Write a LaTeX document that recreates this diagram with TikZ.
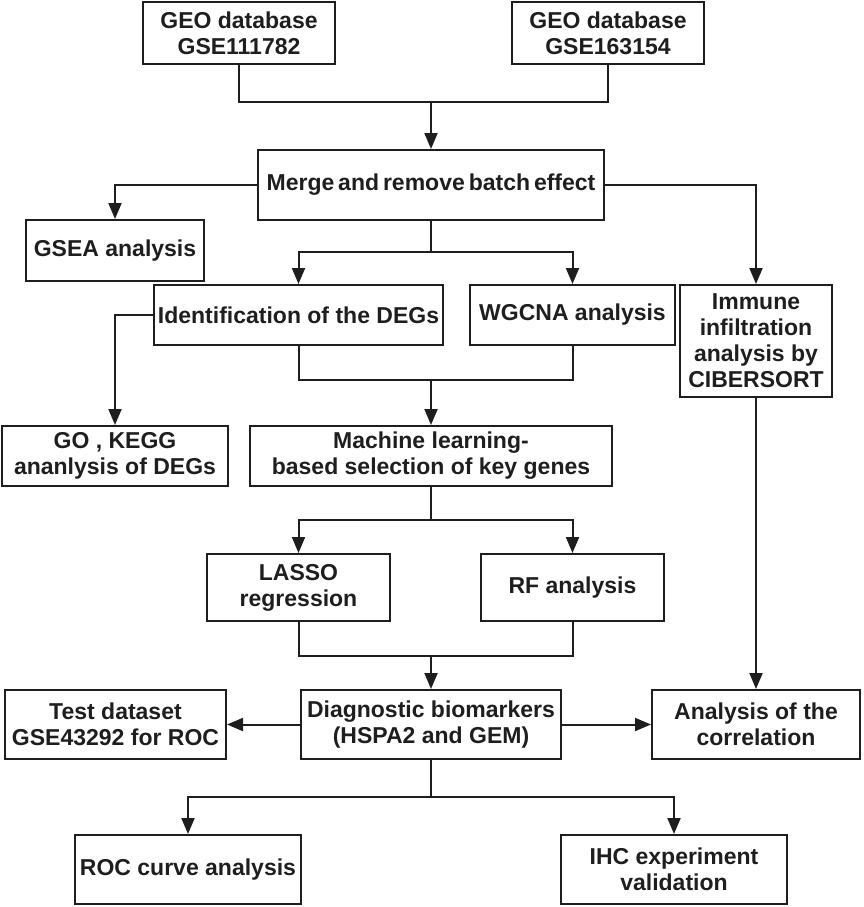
\documentclass[tikz,border=0pt]{standalone}
\usepackage{fontspec}
\setmainfont{Liberation Sans}
\usetikzlibrary{arrows.meta}
\definecolor{ink}{HTML}{1E1E1E}
\begin{document}
\begin{tikzpicture}[x=1pt,y=-1pt,
  box/.style={draw=ink, line width=2pt, inner sep=0pt, align=center, text=ink,
    font=\fontsize{23}{26}\selectfont\bfseries},
  conn/.style={draw=ink, line width=2pt},
  arr/.style={conn, -{Triangle[width=13pt,length=16pt]}}]
\useasboundingbox (0,0) rectangle (863,907);
\node[box, minimum width=192pt, minimum height=62pt] (geo1) at (239,33) {GEO database\\GSE111782};
\node[box, minimum width=192pt, minimum height=62pt] (geo2) at (608,33) {GEO database\\GSE163154};
\node[box, minimum width=346pt, minimum height=70pt] (merge) at (431,185) {\spaceskip=0.17em Merge and remove batch effect};
\node[box, minimum width=178pt, minimum height=61pt] (gsea) at (115,250.5) {GSEA analysis};
\node[box, minimum width=289pt, minimum height=60pt] (deg) at (298.5,315) {Identification of the DEGs};
\node[box, minimum width=205pt, minimum height=60pt] (wgcna) at (572.5,315) {WGCNA analysis};
\node[box, minimum width=152pt, minimum height=112pt] (imm) at (756,341) {Immune\\infiltration\\analysis by\\CIBERSORT};
\node[box, minimum width=226pt, minimum height=60pt] (go) at (115,456) {GO , KEGG\\ananlysis of DEGs};
\node[box, minimum width=362pt, minimum height=60pt] (ml) at (431,456) {Machine learning-\\based selection of key genes};
\node[box, minimum width=183pt, minimum height=67pt] (lasso) at (298.5,587.5) {LASSO\\regression};
\node[box, minimum width=183pt, minimum height=67pt] (rf) at (572.5,587.5) {RF analysis};
\node[box, minimum width=221pt, minimum height=69pt] (test) at (115.5,724.5) {Test dataset\\GSE43292 for ROC};
\node[box, minimum width=260pt, minimum height=69pt] (diag) at (431,724.5) {Diagnostic biomarkers\\(HSPA2 and GEM)};
\node[box, minimum width=208pt, minimum height=69pt] (corr) at (756,724.5) {Analysis of the\\correlation};
\node[box, minimum width=226pt, minimum height=69pt] (roc) at (188,869.5) {ROC curve analysis};
\node[box, minimum width=226pt, minimum height=69pt] (ihc) at (674,869.5) {IHC experiment\\validation};

\coordinate (j1) at (431,102);
\coordinate (j2) at (431,252);
\coordinate (j3) at (431,380);
\coordinate (j4) at (431,520);
\coordinate (j5) at (431,656);
\coordinate (j6) at (431,797);

\draw[conn] (geo1.south) |- (j1);
\draw[conn] (geo2.south) |- (j1);
\draw[arr] (j1) -- (merge.north);
\draw[arr] (merge.west) -| (gsea.north);
\draw[arr] (merge.east) -| (imm.north);
\draw[conn] (merge.south) -- (j2);
\draw[arr] (j2) -| (deg.north);
\draw[arr] (j2) -| (wgcna.north);
\draw[arr] (deg.west) -| (go.north);
\draw[conn] (deg.south) |- (j3);
\draw[conn] (wgcna.south) |- (j3);
\draw[arr] (j3) -- (ml.north);
\draw[conn] (ml.south) -- (j4);
\draw[arr] (j4) -| (lasso.north);
\draw[arr] (j4) -| (rf.north);
\draw[conn] (lasso.south) |- (j5);
\draw[conn] (rf.south) |- (j5);
\draw[arr] (j5) -- (diag.north);
\draw[arr] (diag.west) -- (test.east);
\draw[arr] (diag.east) -- (corr.west);
\draw[arr] (imm.south) -- (corr.north);
\draw[conn] (diag.south) -- (j6);
\draw[arr] (j6) -| (roc.north);
\draw[arr] (j6) -| (ihc.north);
\end{tikzpicture}
\end{document}
